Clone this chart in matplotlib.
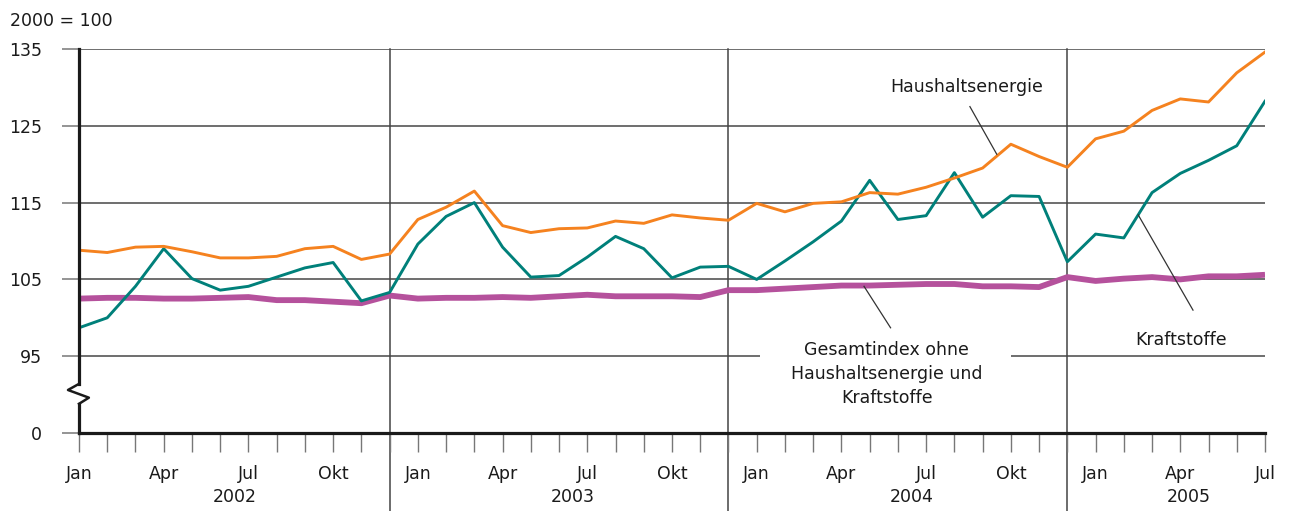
import matplotlib
matplotlib.use('Agg')
import matplotlib.pyplot as plt
import matplotlib.transforms as mtransforms

plt.rcParams['font.family'] = ['DejaVu Sans']

# === Daten (2000 = 100), monatlich Jan 2002 .. Jul 2005 ===
months = list(range(43))
haushaltsenergie = [
    108.8, 108.5, 109.2, 109.3, 108.6, 107.8, 107.8, 108.0, 109.0, 109.3, 107.6, 108.3,
    112.8, 114.4, 116.5, 112.0, 111.1, 111.6, 111.7, 112.6, 112.3, 113.4, 113.0, 112.7,
    114.9, 113.8, 114.9, 115.1, 116.3, 116.1, 117.0, 118.2, 119.5, 122.6, 121.0, 119.6,
    123.3, 124.3, 127.0, 128.5, 128.1, 131.9, 134.6]
kraftstoffe = [
    98.7, 100.0, 104.1, 109.0, 105.1, 103.6, 104.1, 105.3, 106.5, 107.2, 102.2, 103.3,
    109.6, 113.2, 115.0, 109.2, 105.3, 105.5, 107.9, 110.6, 109.0, 105.2, 106.6, 106.7,
    105.0, 107.4, 109.9, 112.6, 117.9, 112.8, 113.3, 118.9, 113.1, 115.9, 115.8, 107.3,
    110.9, 110.4, 116.3, 118.8, 120.5, 122.4, 128.2]
gesamtindex = [
    102.5, 102.6, 102.6, 102.5, 102.5, 102.6, 102.7, 102.3, 102.3, 102.1, 101.9, 102.9,
    102.5, 102.6, 102.6, 102.7, 102.6, 102.8, 103.0, 102.8, 102.8, 102.8, 102.7, 103.6,
    103.6, 103.8, 104.0, 104.2, 104.2, 104.3, 104.4, 104.4, 104.1, 104.1, 104.0, 105.3,
    104.8, 105.1, 105.3, 105.0, 105.4, 105.4, 105.6]

month_names = ['Jan', '', '', 'Apr', '', '', 'Jul', '', '', 'Okt', '', '']
years = ['2002', '2003', '2004', '2005']
year_pos = [5.5, 17.5, 29.5, 39.3]
year_breaks = [11, 23, 35]

y_ticks = [85, 95, 105, 115, 125, 135]
y_labels = ['0', '95', '105', '115', '125', '135']

ORANGE = '#f5821f'
TEAL = '#00807a'
MAGENTA = '#b5519c'
GRID = '#555555'
TICK = '#777777'
FS = 12.5

fig = plt.figure(figsize=(12.93, 5.11), dpi=100)
ax = fig.add_axes([79 / 1293, 78 / 511, 1186 / 1293, 384 / 511])
ax.set_xlim(0, 42)
ax.set_ylim(85, 135)

# Gitterlinien (95er Linie hinter der Beschriftung unterbrochen)
for y in [105, 115, 125, 135]:
    ax.hlines(y, 0, 42, color=GRID, lw=1.2, zorder=1)
ax.hlines(95, 0, 24.1, color=GRID, lw=1.2, zorder=1)
ax.hlines(95, 33.0, 42, color=GRID, lw=1.2, zorder=1)

# Jahrestrenner
for xb in year_breaks:
    ax.axvline(xb, ymin=-0.205, ymax=1, color='#444444', lw=1.1,
               clip_on=False, zorder=1)

ax.plot(months, gesamtindex, color=MAGENTA, lw=4.2, solid_capstyle='butt', zorder=3)
ax.plot(months, kraftstoffe, color=TEAL, lw=2.1, zorder=4)
ax.plot(months, haushaltsenergie, color=ORANGE, lw=2.1, zorder=4)

# Achsen
for s in ['top', 'right', 'left']:
    ax.spines[s].set_visible(False)
ax.spines['bottom'].set_linewidth(2.3)
ax.spines['bottom'].set_color('#1a1a1a')
ax.spines['bottom'].set_zorder(5)

# linke Achse mit Bruchzeichen
brk_lo, brk_hi = 88.8, 91.4
ax.plot([0, 0], [85, brk_lo], color='#1a1a1a', lw=2.3, clip_on=False, zorder=5)
ax.plot([0, 0], [brk_hi, 135], color='#1a1a1a', lw=2.3, clip_on=False, zorder=5)
ax.plot([0, -0.39, 0.35, 0], [brk_hi, 90.6, 89.6, brk_lo], color='#1a1a1a',
        lw=1.8, clip_on=False, zorder=5)

ax.set_yticks(y_ticks)
ax.set_yticklabels(y_labels)
ax.tick_params(axis='y', direction='out', length=12.5, width=1.1, color=TICK,
               pad=14, labelsize=FS, labelcolor='#1a1a1a')

ax.set_xticks(months)
ax.set_xticklabels([month_names[m % 12] for m in months])
ax.tick_params(axis='x', direction='out', length=14, width=1.0, color=TICK,
               pad=9, labelsize=FS, labelcolor='#1a1a1a')

trans = mtransforms.blended_transform_factory(ax.transData, ax.transAxes)
for yr, xp in zip(years, year_pos):
    ax.text(xp, -0.167, yr, transform=trans, ha='center', va='center',
            fontsize=FS, color='#1a1a1a')

# Beschriftungen
ax.text(31.45, 130.05, 'Haushaltsenergie', ha='center', va='center',
        fontsize=FS, color='#1a1a1a')
ax.plot([31.55, 32.5], [127.5, 121.3], color='#333333', lw=0.9, zorder=6)

ax.text(39.03, 97.1, 'Kraftstoffe', ha='center', va='center',
        fontsize=FS, color='#1a1a1a')
ax.plot([37.51, 39.45], [113.4, 101.0], color='#333333', lw=0.9, zorder=6)

ax.text(28.61, 92.7, 'Gesamtindex ohne\nHaushaltsenergie und\nKraftstoffe',
        ha='center', va='center', fontsize=FS, color='#1a1a1a', linespacing=1.45)
ax.plot([27.8, 28.74], [104.1, 98.7], color='#333333', lw=0.9, zorder=6)

fig.text(10 / 1293, 1 - 21 / 511, '2000 = 100', ha='left', va='center',
         fontsize=FS, color='#1a1a1a')

fig.savefig('out.png', dpi=100, facecolor='white')
